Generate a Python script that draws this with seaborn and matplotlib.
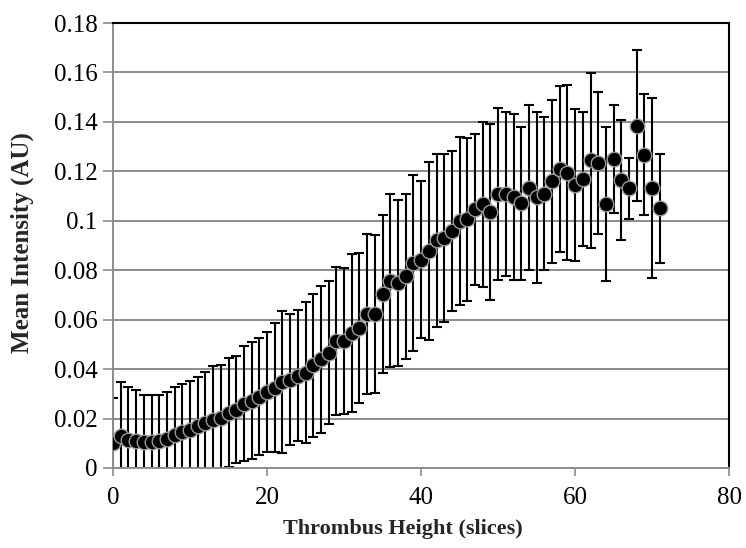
import matplotlib
matplotlib.use("Agg")
import matplotlib.pyplot as plt
import seaborn as sns
import numpy as np
import pandas as pd

height_slices = list(range(72))
mean_intensity = [
    0.0102, 0.0128, 0.0113, 0.0110, 0.0105, 0.0105, 0.0110, 0.0119, 0.0132, 0.0146,
    0.0154, 0.0170, 0.0183, 0.0193, 0.0204, 0.0224, 0.0236, 0.0260, 0.0272, 0.0289,
    0.0309, 0.0325, 0.0347, 0.0357, 0.0374, 0.0386, 0.0415, 0.0440, 0.0467, 0.0513,
    0.0515, 0.0546, 0.0567, 0.0623, 0.0624, 0.0705, 0.0758, 0.0748, 0.0776, 0.0830,
    0.0843, 0.0877, 0.0921, 0.0932, 0.0958, 0.1000, 0.1006, 0.1046, 0.1067, 0.1035,
    0.1108, 0.1110, 0.1095, 0.1070, 0.1134, 0.1095, 0.1110, 0.1160, 0.1210, 0.1195,
    0.1144, 0.1170, 0.1244, 0.1234, 0.1068, 0.1250, 0.1165, 0.1132, 0.1385, 0.1267,
    0.1133, 0.1050,
]
sd_intensity = [
    0.0180, 0.0220, 0.0215, 0.0204, 0.0190, 0.0190, 0.0185, 0.0190, 0.0196, 0.0195,
    0.0198, 0.0198, 0.0205, 0.0220, 0.0213, 0.0220, 0.0216, 0.0233, 0.0236, 0.0238,
    0.0243, 0.0260, 0.0287, 0.0265, 0.0265, 0.0284, 0.0290, 0.0297, 0.0290, 0.0300,
    0.0295, 0.0320, 0.0303, 0.0324, 0.0319, 0.0320, 0.0350, 0.0335, 0.0334, 0.0356,
    0.0316, 0.0360, 0.0350, 0.0340, 0.0323, 0.0340, 0.0330, 0.0306, 0.0333, 0.0355,
    0.0347, 0.0332, 0.0336, 0.0310, 0.0334, 0.0345, 0.0310, 0.0330, 0.0336, 0.0354,
    0.0307, 0.0270, 0.0353, 0.0288, 0.0310, 0.0218, 0.0243, 0.0123, 0.0305, 0.0245,
    0.0365, 0.0220,
]
x_ticks = [0, 20, 40, 60, 80]
y_ticks = [0, 0.02, 0.04, 0.06, 0.08, 0.1, 0.12, 0.14, 0.16, 0.18]
y_tick_labels = ["0", "0.02", "0.04", "0.06", "0.08", "0.1", "0.12", "0.14", "0.16", "0.18"]

df = pd.DataFrame({"height": height_slices, "mean": mean_intensity, "sd": sd_intensity})

sns.set_theme(style="white")
plt.rcParams["font.family"] = ["Liberation Serif", "DejaVu Serif"]

fig = plt.figure(figsize=(7.46, 5.48), dpi=100)
ax = fig.add_axes([0.1515, 0.146, 0.826, 0.812])

ax.set_xlim(0, 80)
ax.set_ylim(0, 0.18)
ax.set_yticks(y_ticks)
ax.set_yticklabels(y_tick_labels)
ax.set_xticks(x_ticks)

ax.grid(axis="y", color="#8c8c8c", linewidth=1.4, zorder=0)
ax.set_axisbelow(True)

ax.errorbar(df["height"], df["mean"], yerr=df["sd"], fmt="none", ecolor="black",
            elinewidth=1.5, capsize=3.8, capthick=1.5, zorder=2)
sns.scatterplot(data=df, x="height", y="mean", ax=ax, s=110, color="black",
                edgecolor="#9a9a9a", linewidth=1.0, zorder=3, legend=False)

for side in ["top", "right"]:
    ax.spines[side].set_color("black")
    ax.spines[side].set_linewidth(1.5)
for side in ["left", "bottom"]:
    ax.spines[side].set_color("#8c8c8c")
    ax.spines[side].set_linewidth(1.4)

ax.tick_params(axis="y", which="major", left=True, length=7, width=1.2, color="#8c8c8c",
               labelsize=18, pad=4, labelcolor="black")
ax.tick_params(axis="x", which="major", bottom=True, length=6, width=1.2, color="#8c8c8c",
               labelsize=18, pad=8, labelcolor="black")

ax.set_xlabel("Thrombus Height (slices)", fontsize=16, fontweight="bold")
ax.set_ylabel("Mean Intensity (AU)", fontsize=18, fontweight="bold")
ax.xaxis.set_label_coords(0.471, -0.115)
ax.yaxis.set_label_coords(-0.128, 0.507)

fig.savefig("out.png", dpi=100)
